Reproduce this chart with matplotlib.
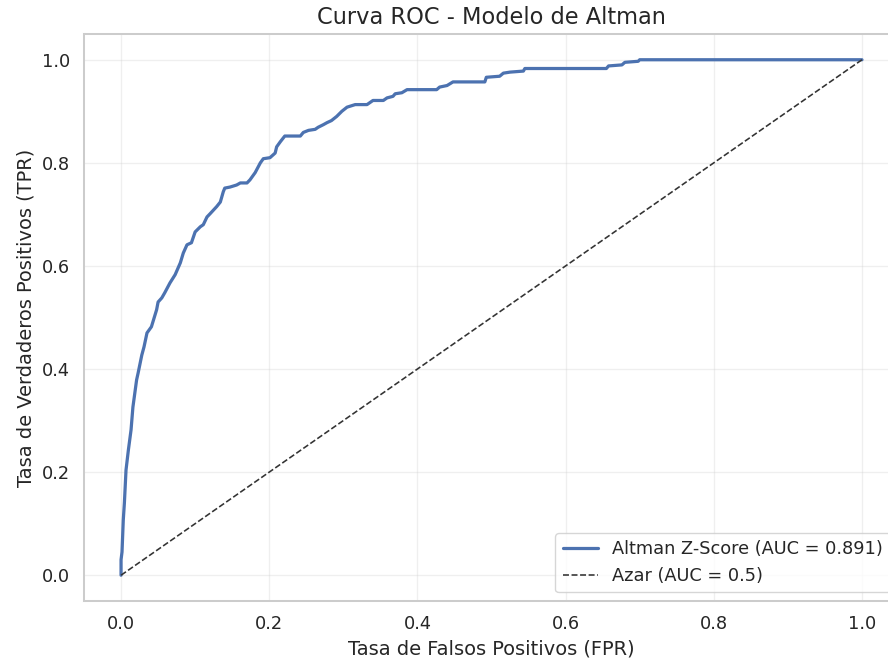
import numpy as np
import matplotlib
matplotlib.use("Agg")
import matplotlib.pyplot as plt
import seaborn as sns

# ROC curve of the Altman Z-Score
fpr = [0.0, 0.0, 0.0013, 0.003, 0.0045, 0.0067, 0.0099, 0.0135, 0.016, 0.021,
       0.023, 0.028, 0.031, 0.035, 0.041, 0.048, 0.050, 0.055, 0.059, 0.066,
       0.073, 0.080, 0.084, 0.089, 0.095, 0.100, 0.107, 0.111, 0.116, 0.120,
       0.129, 0.134, 0.138, 0.140, 0.147, 0.156, 0.161, 0.170, 0.174, 0.181,
       0.188, 0.192, 0.201, 0.208, 0.210, 0.215, 0.221, 0.242, 0.246, 0.253,
       0.262, 0.266, 0.273, 0.278, 0.284, 0.291, 0.298, 0.305, 0.316, 0.332,
       0.336, 0.340, 0.354, 0.359, 0.367, 0.370, 0.379, 0.386, 0.426, 0.430,
       0.440, 0.448, 0.491, 0.493, 0.511, 0.516, 0.525, 0.543, 0.545, 0.655,
       0.658, 0.676, 0.680, 0.698, 0.700, 1.0]
tpr = [0.0, 0.03, 0.045, 0.107, 0.140, 0.204, 0.243, 0.282, 0.326, 0.379,
       0.392, 0.427, 0.443, 0.470, 0.482, 0.515, 0.530, 0.538, 0.548, 0.567,
       0.583, 0.606, 0.625, 0.641, 0.645, 0.666, 0.676, 0.680, 0.695, 0.701,
       0.715, 0.724, 0.744, 0.751, 0.753, 0.757, 0.761, 0.761, 0.767, 0.781,
       0.800, 0.808, 0.810, 0.819, 0.831, 0.841, 0.852, 0.852, 0.859, 0.863,
       0.865, 0.869, 0.874, 0.878, 0.882, 0.890, 0.900, 0.908, 0.913, 0.913,
       0.917, 0.921, 0.921, 0.926, 0.929, 0.934, 0.936, 0.942, 0.942, 0.947,
       0.950, 0.957, 0.957, 0.966, 0.968, 0.974, 0.976, 0.978, 0.983, 0.983,
       0.988, 0.990, 0.995, 0.997, 1.0, 1.0]
auc_model = 0.891
chance = [0, 1]

sns.set_theme(style="whitegrid")

# the original was drawn a bit larger than 100 dpi, so scale fonts/lines up
k = 1.16

fig = plt.figure(figsize=(8.88, 6.61), dpi=100)
ax = fig.add_axes([0.0946, 0.0908, 0.9178, 0.8578])

ax.plot(fpr, tpr, color="#4C72B0", lw=2 * k,
        label=f"Altman Z-Score (AUC = {auc_model})")
ax.plot(chance, chance, "--", color="#333333", lw=1 * k,
        label="Azar (AUC = 0.5)")

ax.set_title("Curva ROC - Modelo de Altman", fontsize=14 * k, pad=6 * k)
ax.set_xlabel("Tasa de Falsos Positivos (FPR)", fontsize=12 * k, labelpad=4 * k)
ax.set_ylabel("Tasa de Verdaderos Positivos (TPR)", fontsize=12 * k, labelpad=4 * k)
ax.tick_params(labelsize=11 * k, pad=3.5 * k)
ax.grid(alpha=0.3, lw=0.8 * k)
for s in ax.spines.values():
    s.set_linewidth(1.25 * k)
ax.legend(loc="lower right", fontsize=11 * k)

fig.savefig("out.png", dpi=100)
